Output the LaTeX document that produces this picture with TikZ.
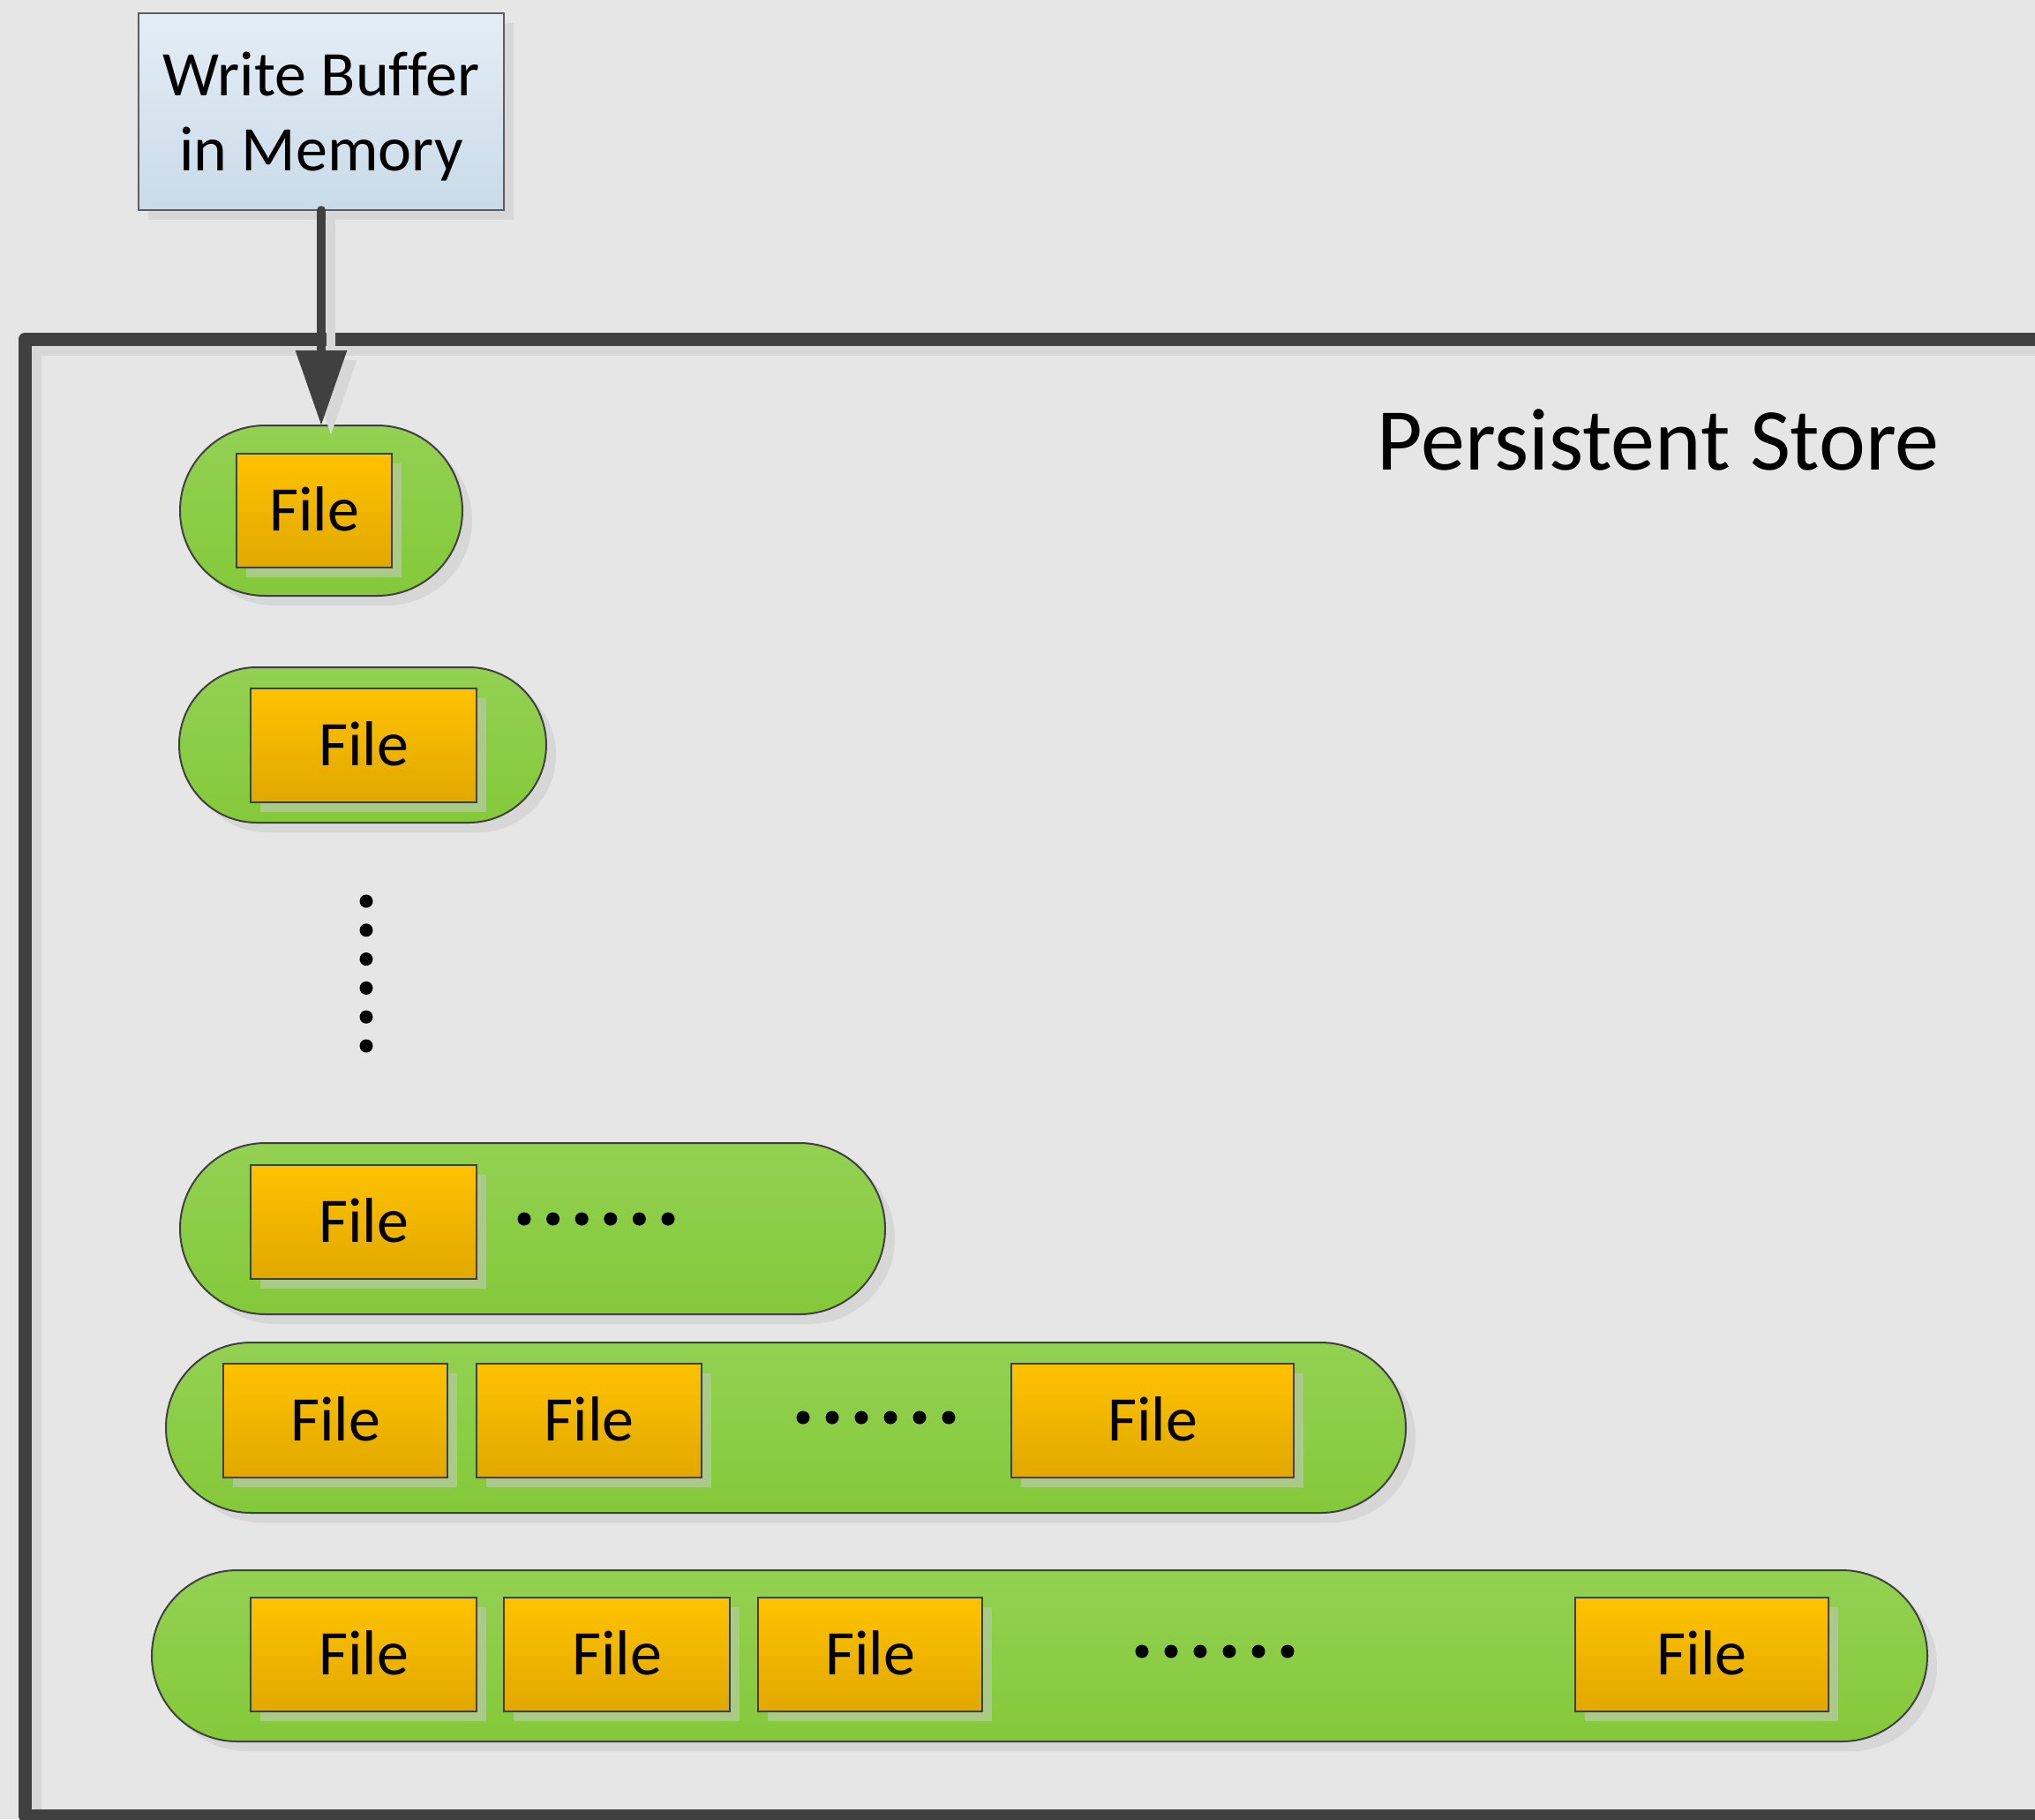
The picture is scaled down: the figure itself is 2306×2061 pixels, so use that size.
\documentclass[tikz,border=0pt]{standalone}
\usepackage{fontspec}
\setmainfont{Carlito}[Ligatures=NoCommon]
\usetikzlibrary{arrows.meta,shadows,shapes.misc}

\definecolor{canvasgray}{HTML}{E6E6E6}
\definecolor{darkline}{HTML}{404040}
\definecolor{shadegray}{HTML}{D7D7D7}
\definecolor{pilltop}{HTML}{93D152}
\definecolor{pillbot}{HTML}{84C93A}
\definecolor{filetop}{HTML}{FFC200}
\definecolor{filebot}{HTML}{E1A800}
\definecolor{fileshade}{HTML}{AACB88}
\definecolor{bufftop}{HTML}{E4EDF5}
\definecolor{buffbot}{HTML}{C9DBE9}

\tikzset{
  every node/.style={inner sep=0pt, outer sep=0pt},
  boxshadow/.style={drop shadow={shadow xshift=11pt, shadow yshift=-11pt,
      fill=#1, opacity=1}},
  level/.style={rounded rectangle, draw=darkline, line width=2pt,
      top color=pilltop, bottom color=pillbot, boxshadow=shadegray},
  filebox/.style={rectangle, draw=darkline, line width=2pt,
      top color=filetop, bottom color=filebot, boxshadow=fileshade,
      minimum height=129pt, text height=46pt, text depth=0pt,
      font=\fontsize{72}{86}\selectfont},
  bufferbox/.style={rectangle, draw=darkline!85, line width=2pt,
      top color=bufftop, bottom color=buffbot, boxshadow=shadegray,
      align=center, font=\fontsize{72}{85}\selectfont},
  flow/.style={line width=9.4pt, line cap=round,
      -{Triangle[length=85pt, width=56pt]}},
  ellipsisdot/.style={fill=black},
}

\begin{document}
\begin{tikzpicture}[x=1pt, y=-1pt]
  \useasboundingbox (0,0) rectangle (2306,2061);
  \fill[canvasgray] (0,0) rectangle (2306,2061);

  % persistent store frame (open to the right) with its shadow
  \draw[shadegray, line width=15pt, line join=round]
    (2340,395) -- (39.5,395) -- (39.5,2068) -- (2340,2068);
  \draw[darkline, line width=15pt, line join=round]
    (2330,384) -- (28.5,384) -- (28.5,2057) -- (2330,2057);

  \node[font=\fontsize{100}{120}\selectfont, anchor=base] (title)
    at (1879,532) {Persistent Store};

  % levels
  \node[level, minimum width=320pt, minimum height=193pt] (p1) at (364,578.5) {};
  \node[level, minimum width=416pt, minimum height=176pt] (p2) at (411,844) {};
  \node[level, minimum width=799pt, minimum height=194pt] (p3) at (603.5,1392) {};
  \node[level, minimum width=1405pt, minimum height=193pt] (p4) at (890.5,1617.5) {};
  \node[level, minimum width=2012pt, minimum height=194pt] (p5) at (1178,1876) {};

  % files
  \node[filebox, minimum width=176pt] (f1) at (356,578.5) {File};
  \node[filebox, minimum width=256pt] (f2) at (412,844.5) {File};
  \node[filebox, minimum width=256pt] (f3) at (412,1384) {File};
  \node[filebox, minimum width=254pt] (f4a) at (380,1609.5) {File};
  \node[filebox, minimum width=255pt] (f4b) at (667.5,1609.5) {File};
  \node[filebox, minimum width=320pt] (f4c) at (1306,1609.5) {File};
  \node[filebox, minimum width=256pt] (f5a) at (412,1874.5) {File};
  \node[filebox, minimum width=256pt] (f5b) at (699,1874.5) {File};
  \node[filebox, minimum width=254pt] (f5c) at (986,1874.5) {File};
  \node[filebox, minimum width=287pt] (f5d) at (1928.5,1874.5) {File};

  % ellipses
  \foreach \k in {0,...,5} {
    \fill[ellipsisdot] (415,1021+32.8*\k) circle[radius=7.5pt];
    \fill[ellipsisdot] (594+32.6*\k,1381) circle[radius=7.5pt];
    \fill[ellipsisdot] (910+33*\k,1606) circle[radius=7.5pt];
    \fill[ellipsisdot] (1294+33*\k,1871) circle[radius=7.5pt];
  }

  % write buffer and flush arrow
  \node[bufferbox, minimum width=414pt, minimum height=223pt] (wb)
    at (364,126.5) {\rule{0pt}{60pt}Write Buffer\\in Memory};
  \draw[flow, shadegray, transform canvas={shift={(11pt,-11pt)}}] (wb.south) -- (p1.north);
  \draw[flow, darkline] (wb.south) -- (p1.north);
\end{tikzpicture}
\end{document}
